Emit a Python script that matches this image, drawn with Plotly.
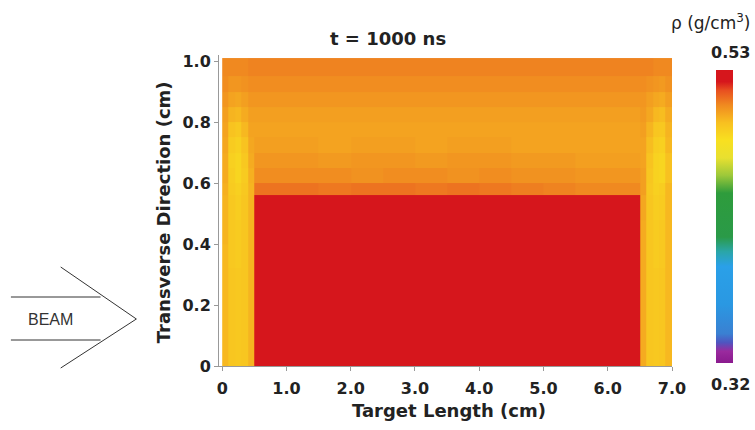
import plotly.graph_objects as go

# ---- data ----
x_edges = [0.0, 0.1, 0.2, 0.3, 0.4, 0.5,
           1.0, 1.5, 2.0, 2.5, 3.0, 3.5, 4.0, 4.5, 5.0, 5.5, 6.0, 6.5,
           6.6, 6.7, 6.8, 6.9, 7.0]
y_edges = [0.0, 0.08, 0.16, 0.24, 0.32, 0.40, 0.48, 0.56, 0.60, 0.65,
           0.70, 0.75, 0.80, 0.85, 0.90, 0.95, 1.01]

R = 0.526
red_row = [R] * 12
density = [
    [0.494, 0.490, 0.489, 0.490, 0.495] + red_row + [0.497, 0.490, 0.489, 0.490, 0.494],
    [0.494, 0.490, 0.489, 0.490, 0.495] + red_row + [0.497, 0.490, 0.489, 0.490, 0.494],
    [0.494, 0.490, 0.489, 0.490, 0.495] + red_row + [0.497, 0.490, 0.489, 0.490, 0.494],
    [0.494, 0.490, 0.489, 0.490, 0.495] + red_row + [0.497, 0.490, 0.489, 0.490, 0.494],
    [0.494, 0.489, 0.488, 0.490, 0.495] + red_row + [0.497, 0.490, 0.488, 0.489, 0.494],
    [0.495, 0.489, 0.488, 0.490, 0.495] + red_row + [0.497, 0.490, 0.488, 0.489, 0.494],
    [0.495, 0.489, 0.487, 0.490, 0.495] + red_row + [0.498, 0.490, 0.487, 0.488, 0.494],
    [0.496, 0.488, 0.486, 0.489, 0.495] + [0.509, 0.509, 0.508, 0.509, 0.509, 0.508, 0.509, 0.508, 0.507, 0.506, 0.505, 0.505] + [0.500, 0.489, 0.486, 0.487, 0.494],
    [0.497, 0.487, 0.484, 0.488, 0.496] + [0.504, 0.504, 0.504, 0.503, 0.504, 0.504, 0.503, 0.504, 0.503, 0.503, 0.502, 0.502] + [0.500, 0.490, 0.485, 0.484, 0.492],
    [0.497, 0.486, 0.484, 0.489, 0.497] + [0.502, 0.502, 0.501, 0.502, 0.502, 0.501, 0.502, 0.502, 0.501, 0.501, 0.500, 0.500] + [0.499, 0.491, 0.485, 0.484, 0.492],
    [0.498, 0.488, 0.486, 0.491, 0.498] + [0.500, 0.500, 0.499, 0.500, 0.500, 0.499, 0.500, 0.500, 0.499, 0.499, 0.499, 0.499] + [0.499, 0.493, 0.487, 0.486, 0.494],
    [0.499, 0.491, 0.489, 0.494, 0.499] + [0.499, 0.499, 0.499, 0.499, 0.499, 0.499, 0.499, 0.499, 0.499, 0.499, 0.499, 0.499] + [0.500, 0.495, 0.490, 0.489, 0.495],
    [0.500, 0.495, 0.494, 0.497, 0.500] + [0.500, 0.500, 0.500, 0.500, 0.500, 0.500, 0.500, 0.500, 0.500, 0.500, 0.500, 0.500] + [0.501, 0.498, 0.494, 0.493, 0.497],
    [0.502, 0.499, 0.498, 0.500, 0.502] + [0.502, 0.502, 0.502, 0.502, 0.502, 0.502, 0.502, 0.502, 0.502, 0.502, 0.502, 0.502] + [0.502, 0.500, 0.498, 0.497, 0.500],
    [0.504, 0.502, 0.502, 0.503, 0.504] + [0.504, 0.504, 0.504, 0.504, 0.504, 0.504, 0.504, 0.504, 0.504, 0.504, 0.504, 0.504] + [0.504, 0.503, 0.502, 0.501, 0.503],
    [0.505, 0.505, 0.505, 0.505, 0.506] + [0.506, 0.506, 0.506, 0.506, 0.506, 0.506, 0.506, 0.506, 0.506, 0.506, 0.506, 0.506] + [0.506, 0.506, 0.505, 0.505, 0.505],
]

x_tickvals = [0, 1, 2, 3, 4, 5, 6, 7]
x_ticktext = ["0", "1.0", "2.0", "3.0", "4.0", "5.0", "6.0", "7.0"]
y_tickvals = [0, 0.2, 0.4, 0.6, 0.8, 1.0]
y_ticktext = ["0", "0.2", "0.4", "0.6", "0.8", "1.0"]
zmin, zmax = 0.32, 0.53

colorscale = [
    [0.00, "#8a1a8e"], [0.04, "#9a2a9e"], [0.07, "#4f55c0"], [0.10, "#3a80d2"],
    [0.20, "#2a98e2"], [0.33, "#2aa0e8"], [0.38, "#2aa6a8"], [0.43, "#2a9a48"],
    [0.58, "#2e9c3c"], [0.64, "#9cc83a"], [0.70, "#e8e030"], [0.76, "#f8e020"],
    [0.82, "#f8c020"], [0.88, "#f08a20"], [0.93, "#e85020"], [0.96, "#d6161c"],
    [1.00, "#d6161c"],
]

# ---- layout geometry (pixels) ----
W, H = 755, 430
L, Rm, T, B = 219, 81, 55, 64
pw, ph = W - L - Rm, H - T - B

def px(x):
    return (x - L) / pw

def py(y):
    return (H - B - y) / ph

fig = go.Figure(go.Heatmap(
    x=x_edges, y=y_edges, z=density,
    zmin=zmin, zmax=zmax, colorscale=colorscale,
    colorbar=dict(
        x=px(708), xanchor="left", y=py(216.5), yanchor="middle",
        thickness=17, thicknessmode="pixels", len=313, lenmode="pixels",
        outlinewidth=0, showticklabels=False, ticks="",
    ),
))

font_b = "DejaVu Sans"
tickfont = dict(family=font_b, size=16, color="#222", weight="bold")
fig.update_layout(
    width=W, height=H,
    margin=dict(l=L, r=Rm, t=T, b=B),
    paper_bgcolor="white", plot_bgcolor="white",
    font=dict(family=font_b, color="#222"),
    xaxis=dict(range=[-0.05, 7.0], tickvals=x_tickvals, ticktext=x_ticktext,
               showgrid=False, zeroline=False, showline=True, linecolor="#999",
               linewidth=1, ticks="outside", ticklen=4, tickcolor="#999",
               tickfont=tickfont, ticklabelstandoff=4),
    yaxis=dict(range=[0, 1.02], tickvals=y_tickvals, ticktext=y_ticktext,
               showgrid=False, zeroline=False, showline=True, linecolor="#999",
               linewidth=1, ticks="outside", ticklen=4, tickcolor="#999",
               tickfont=tickfont),
)

ann = [
    dict(text="<b>t = 1000 ns</b>", x=px(389), y=py(38), size=18),
    dict(text="<b>Target Length (cm)</b>", x=px(450), y=py(410), size=18),
    dict(text="<b>0.53</b>", x=px(733), y=py(52), size=16),
    dict(text="<b>0.32</b>", x=px(733), y=py(384), size=16),
]
for a in ann:
    fig.add_annotation(text=a["text"], x=a["x"], y=a["y"], xref="paper", yref="paper",
                       showarrow=False, xanchor="center", yanchor="middle",
                       font=dict(family=font_b, size=a["size"], color="#222"))

fig.add_annotation(text="<b>Transverse Direction (cm)</b>", x=px(163), y=py(212),
                   xref="paper", yref="paper", showarrow=False, textangle=-90,
                   xanchor="center", yanchor="middle",
                   font=dict(family=font_b, size=18, color="#222"))
fig.add_annotation(text="ρ (g/cm<sup>3</sup>)", x=px(671), y=py(22),
                   xref="paper", yref="paper", showarrow=False,
                   xanchor="left", yanchor="middle",
                   font=dict(family=font_b, size=17, color="#222"))
fig.add_annotation(text="BEAM", x=px(25), y=py(319),
                   xref="paper", yref="paper", showarrow=False,
                   xanchor="left", yanchor="middle",
                   font=dict(family="Liberation Sans", size=16, color="#333"))

# BEAM arrow outline
arrow_lines = [((10, 297), (100, 297)), ((10, 340), (100, 340)),
               ((60, 267), (136, 319)), ((136, 319), (60, 368))]
for (x0, y0), (x1, y1) in arrow_lines:
    fig.add_shape(type="line", xref="paper", yref="paper",
                  x0=px(x0), y0=py(y0), x1=px(x1), y1=py(y1),
                  line=dict(color="#333", width=1))

fig.write_html("out.html")
